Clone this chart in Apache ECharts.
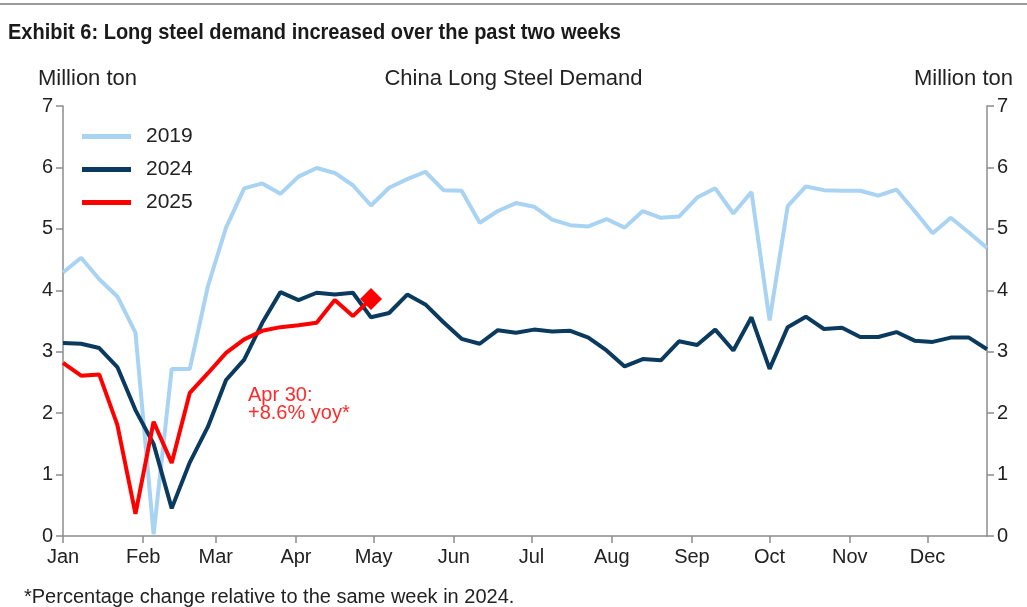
<!DOCTYPE html>
<html>
<head>
<meta charset="utf-8">
<script src="https://cdn.jsdelivr.net/npm/echarts@6/dist/echarts.min.js"></script>
<style>
html,body{margin:0;padding:0;background:#fff;}
#chart{width:1027px;height:607px;}
</style>
</head>
<body>
<div id="chart"></div>
<script>
// Weekly values (week index i -> day of year 7*i)
const series2019 = [4.29,4.53,4.18,3.90,3.31,0.03,2.72,2.72,4.07,5.02,5.66,5.74,5.57,5.85,5.99,5.91,5.71,5.38,5.67,5.81,5.93,5.63,5.62,5.10,5.29,5.42,5.36,5.15,5.06,5.04,5.16,5.02,5.29,5.18,5.20,5.51,5.66,5.25,5.60,3.51,5.37,5.69,5.63,5.62,5.62,5.54,5.64,5.29,4.93,5.18,4.94,4.69];
const series2024 = [3.14,3.13,3.06,2.75,2.05,1.50,0.45,1.20,1.78,2.54,2.87,3.47,3.97,3.84,3.96,3.93,3.96,3.56,3.63,3.93,3.77,3.48,3.21,3.13,3.35,3.31,3.36,3.33,3.34,3.23,3.02,2.76,2.88,2.86,3.17,3.11,3.36,3.02,3.56,2.72,3.40,3.57,3.37,3.39,3.24,3.24,3.32,3.18,3.16,3.23,3.23,3.04];
const series2025 = [2.82,2.61,2.63,1.81,0.36,1.86,1.19,2.33,2.65,2.98,3.20,3.34,3.40,3.43,3.47,3.84,3.58,3.86];
const monthStarts = [0,31,59,90,120,151,181,212,243,273,304,334];
const monthNames = ['Jan','Feb','Mar','Apr','May','Jun','Jul','Aug','Sep','Oct','Nov','Dec'];
const seriesNames = ['2019','2024','2025'];
const daysPerWeek = 7;

function toPoints(arr){ return arr.map((v,i)=>[i*daysPerWeek, v]); }

const pts2025 = toPoints(series2025).map((p,i,a)=> i===a.length-1
  ? {value:p, symbol:'diamond', symbolSize:22}
  : {value:p});

const FONT = "'Liberation Sans', Arial, sans-serif";
const chart = echarts.init(document.getElementById('chart'), null, {renderer:'canvas'});

const axisStyle = {lineStyle:{color:'#8c8c8c', width:1.5}};
const tickStyle = {color:'#8c8c8c', width:1.5};
const option = {
  animation:false,
  backgroundColor:'#fff',
  textStyle:{fontFamily:FONT},
  title:[
    {text:'China Long Steel Demand', left:'center', top:68, padding:0,
     textStyle:{fontFamily:FONT, fontWeight:'normal', fontSize:22, color:'#222'}}
  ],
  graphic:[
    {type:'rect', shape:{x:0,y:3,width:1027,height:2}, style:{fill:'#9a9a9a'}},
    {type:'text', x:8, y:22, scaleX:0.91,
     style:{text:'Exhibit 6: Long steel demand increased over the past two weeks', font:'bold 22px '+FONT, fill:'#1a1a1a'}},
    {type:'text', left:38, top:68, style:{text:'Million ton', font:'22px '+FONT, fill:'#222'}},
    {type:'text', right:14, top:68, style:{text:'Million ton', font:'22px '+FONT, fill:'#222'}},
    {type:'text', left:248, top:385, style:{text:'Apr 30:\n+8.6% yoy*', font:'20px '+FONT, fill:'#ff2a2a', lineHeight:18}},
    {type:'text', left:24, top:587, style:{text:'*Percentage change relative to the same week in 2024.', font:'20px '+FONT, fill:'#222'}}
  ],
  legend:{
    orient:'vertical', left:77, top:121, itemGap:12, itemWidth:49, itemHeight:5,
    icon:'rect', data:seriesNames,
    textStyle:{fontFamily:FONT, fontSize:21, color:'#222', padding:[0,0,0,10]}
  },
  grid:{left:63, right:40, top:106, bottom:71},
  xAxis:{
    type:'value', min:0, max:357,
    axisLine:axisStyle,
    splitLine:{show:false},
    axisTick:{show:true, length:7, lineStyle:tickStyle, customValues:monthStarts},
    axisLabel:{customValues:monthStarts, fontSize:20, color:'#222', margin:11,
      formatter:(v)=>monthNames[monthStarts.indexOf(v)] || ''}
  },
  yAxis:[
    {type:'value', min:0, max:7, interval:1, position:'left',
     axisLine:{show:true, ...axisStyle}, axisTick:{show:true, length:7, lineStyle:tickStyle},
     splitLine:{show:false}, axisLabel:{fontSize:20, color:'#222', margin:10}},
    {type:'value', min:0, max:7, interval:1, position:'right',
     axisLine:{show:true, ...axisStyle}, axisTick:{show:true, length:7, lineStyle:tickStyle},
     splitLine:{show:false}, axisLabel:{fontSize:20, color:'#222', margin:10}}
  ],
  series:[
    {name:'2019', type:'line', data:toPoints(series2019), symbol:'none', lineStyle:{width:4, color:'#a9d3f3'}, itemStyle:{color:'#a9d3f3'}, z:1},
    {name:'2024', type:'line', data:toPoints(series2024), symbol:'none', lineStyle:{width:4, color:'#0b3a5f'}, itemStyle:{color:'#0b3a5f'}, z:2},
    {name:'2025', type:'line', data:pts2025, symbol:'none', lineStyle:{width:4, color:'#ff0000'}, itemStyle:{color:'#ff0000'}, z:3}
  ]
};
chart.setOption(option);
</script>
</body>
</html>
